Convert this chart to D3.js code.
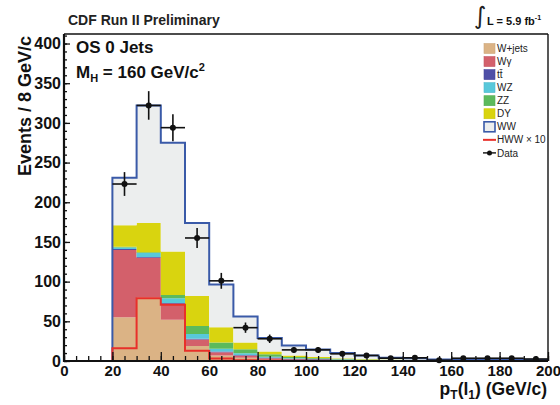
<!DOCTYPE html>
<html><head><meta charset="utf-8">
<script src="https://cdn.jsdelivr.net/npm/d3@7"></script>
<style>
body{margin:0;background:#fff}
svg{display:block;font-family:"Liberation Sans",Arial,Helvetica,sans-serif}
</style>
</head><body>
<svg id="c" width="560" height="405"></svg>
<script>
// ---- data (bins of 10 GeV/c, lower edges) ----
const binLo  = [0,10,20,30,40,50,60,70,80,90,100,110,120,130,140,150,160,170,180,190];
const wjets  = [0,0,55,80,52,19,7,4,2,1.2,0.8,0.5,0.3,0.2,0.1,0.1,0.1,0.1,0.1,0.1];
const wgamma = [0,0,85,50,20,8,4,3,1.5,0.8,0.5,0.3,0.2,0.1,0.1,0,0,0,0,0];
const ttbar  = [0,0,1,1,1,1,1,0.7,0.8,0.8,0.8,0.8,0.8,0.8,0.7,0.5,0.5,0.5,0.4,0.3];
const wz     = [0,0,2,5,6,6,3.4,2,1.2,0.8,0.6,0.4,0.3,0.2,0.2,0.1,0.1,0.1,0.1,0.1];
const zz     = [0,0,1,1,4,10,8,5,3,1.5,1,0.7,0.4,0.3,0.2,0.1,0.1,0.1,0.1,0.1];
const dy     = [0,0,27,37,55,38,19,8.5,3.5,1.9,1.3,0.8,0.5,0.4,0.2,0.2,0.1,0.1,0.1,0.1];
const ww     = [0,0,60,148,137,92,54,33,17,12.5,9.5,6.5,4.5,2,2,1,1.1,1.1,1.2,0.8];
const hww10  = [0,0,16,79,71,13,3,1,0.5,0.3,0.2,0.1,0.1,0,0,0,0,0,0,0];
const dataVal = [null,null,223,322,294,155,101,42,28,14,14,9,7,3.5,4,1,3.5,3.5,3.5,2.5];
const dataErr = [null,null,15,18,17,12.5,10,6.5,5.3,3.7,3.7,3,2.6,1.9,2,1,1.9,1.9,1.9,1.6];
const xTicks = [0,20,40,60,80,100,120,140,160,180,200];
const yTicks = [0,50,100,150,200,250,300,350,400];
const seriesKeys   = ["wjets","wgamma","ttbar","wz","zz","dy","ww"];
const seriesLabels = ["W+jets","W\u03b3","tt\u0304","WZ","ZZ","DY","WW"];
const seriesColors = ["#dbb385","#d3606b","#4e4fa7","#58c8da","#5cba5c","#d9d40f","#eceeee"];

(function(){
const svg = d3.select("#c");
const x = d3.scaleLinear().domain([0,200]).range([64,548]);
const y = d3.scaleLinear().domain([0,412]).range([361,34]);
const binW = 10;

const table = binLo.map((lo,i)=>({lo, wjets:wjets[i], wgamma:wgamma[i], ttbar:ttbar[i], wz:wz[i], zz:zz[i], dy:dy[i], ww:ww[i]}));
const stacked = d3.stack().keys(seriesKeys)(table);

function stepPts(arr){
  const last = arr[arr.length-1];
  return arr.concat([Object.assign({}, last, {lo:last.lo+binW})]);
}
const area = d3.area().curve(d3.curveStepAfter)
  .x(d=>x(d.lo)).y0(d=>y(d.a)).y1(d=>y(d.b));

stacked.forEach((layer,k)=>{
  const pts = stepPts(layer.map(d=>({lo:d.data.lo, a:d[0], b:d[1]})));
  svg.append("path").attr("d", area(pts)).attr("fill", seriesColors[k]).attr("stroke","none");
});

const topLayer = stacked[stacked.length-1];
const line = d3.line().curve(d3.curveStepAfter).x(d=>x(d.lo)).y(d=>y(d.v));
const topPts = stepPts(topLayer.map(d=>({lo:d.data.lo, v:d[1]})));
svg.append("path").attr("d", line(topPts)).attr("fill","none").attr("stroke","#3a5aa8").attr("stroke-width",2);

const hPts = stepPts(binLo.map((lo,i)=>({lo, v:hww10[i]})));
svg.append("path").attr("d", line(hPts)).attr("fill","none").attr("stroke","#e8302a").attr("stroke-width",2);

// axes
const xMinor = d3.range(0,201,5);
const yMinor = d3.range(0,411,10);
const gx = svg.append("g").attr("transform",`translate(0,${y(0)})`);
gx.call(d3.axisBottom(x).tickValues(xMinor).tickSize(-5).tickFormat("").tickSizeOuter(0));
const gx2 = svg.append("g").attr("transform",`translate(0,${y(0)})`);
gx2.call(d3.axisBottom(x).tickValues(xTicks).tickSize(-9).tickPadding(4).tickFormat(d3.format("d")).tickSizeOuter(0));
const gy = svg.append("g").attr("transform",`translate(${x(0)},0)`);
gy.call(d3.axisLeft(y).tickValues(yMinor).tickSize(-3).tickFormat("").tickSizeOuter(0));
const gy2 = svg.append("g").attr("transform",`translate(${x(0)},0)`);
gy2.call(d3.axisLeft(y).tickValues(yTicks).tickSize(-6).tickPadding(3).tickFormat(d3.format("d")).tickSizeOuter(0));
svg.selectAll(".domain").remove();
svg.selectAll(".tick line").attr("stroke","#111").attr("stroke-width",1.3);
gx2.selectAll("text").attr("font-size",15).attr("font-weight","bold").attr("fill","#111")
  .attr("font-family","'Liberation Sans',Arial,sans-serif").attr("y",4).attr("dy","0.75em");
gy2.selectAll("text").attr("font-size",16).attr("font-weight","bold").attr("fill","#111")
  .attr("font-family","'Liberation Sans',Arial,sans-serif");

// frame
svg.append("line").attr("x1",x(0)).attr("x2",x(200)).attr("y1",y(0)).attr("y2",y(0)).attr("stroke","#111").attr("stroke-width",2.2);
svg.append("line").attr("x1",x(0)).attr("x2",x(0)).attr("y1",y(0)+1).attr("y2",34).attr("stroke","#111").attr("stroke-width",2.2);
svg.append("line").attr("x1",x(0)).attr("x2",x(200)).attr("y1",34).attr("y2",34).attr("stroke","#111").attr("stroke-width",1.6);
svg.append("line").attr("x1",x(200)).attr("x2",x(200)).attr("y1",34).attr("y2",y(0)).attr("stroke","#111").attr("stroke-width",1.4);

// data points
const gd = svg.append("g").attr("stroke","#111").attr("stroke-width",1.6);
binLo.forEach((lo,i)=>{
  if(dataVal[i]==null) return;
  const cx = x(lo+binW/2), cy = y(dataVal[i]);
  gd.append("line").attr("x1",x(lo)).attr("x2",x(lo+binW)).attr("y1",cy).attr("y2",cy);
  gd.append("line").attr("x1",cx).attr("x2",cx).attr("y1",y(Math.max(0,dataVal[i]-dataErr[i]))).attr("y2",y(dataVal[i]+dataErr[i]));
  gd.append("circle").attr("cx",cx).attr("cy",cy).attr("r",3).attr("fill","#111").attr("stroke","none");
});

// texts
svg.append("text").attr("x",68).attr("y",25).attr("font-size",14).attr("font-weight","bold").attr("fill","#222")
  .text("CDF Run II Preliminary");
svg.append("text").attr("x",76).attr("y",53).attr("font-size",17).attr("font-weight","bold").attr("fill","#111")
  .text("OS 0 Jets");
const mh = svg.append("text").attr("x",76).attr("y",78).attr("font-size",17).attr("font-weight","bold").attr("fill","#111");
mh.append("tspan").text("M");
mh.append("tspan").attr("font-size",11).attr("dy",4).text("H");
mh.append("tspan").attr("dy",-4).text(" = 160 GeV/c");
mh.append("tspan").attr("font-size",11).attr("dy",-7).text("2");

svg.append("text").attr("x",474).attr("y",24).attr("font-size",24).attr("font-family","'DejaVu Sans',sans-serif")
  .attr("fill","#222").text("\u222b");
const lum = svg.append("text").attr("x",487).attr("y",25).attr("font-size",11).attr("font-weight","bold").attr("fill","#111");
lum.append("tspan").text("L = 5.9 fb");
lum.append("tspan").attr("font-size",7).attr("dy",-5).text("-1");

svg.append("text").attr("transform","rotate(-90)").attr("x",-36).attr("y",31)
  .attr("text-anchor","end").attr("font-size",18).attr("font-weight","bold").attr("fill","#111")
  .text("Events / 8 GeV/c");
const xt = svg.append("text").attr("x",547).attr("y",395).attr("text-anchor","end")
  .attr("font-size",17.5).attr("font-weight","bold").attr("fill","#111");
xt.append("tspan").text("p");
xt.append("tspan").attr("font-size",12).attr("dy",4).text("T");
xt.append("tspan").attr("dy",-4).text("(l");
xt.append("tspan").attr("font-size",12).attr("dy",4).text("1");
xt.append("tspan").attr("dy",-4).text(") (GeV/c)");

// legend
const lg = svg.append("g").attr("font-size",10).attr("fill","#222");
const ly0 = 48.5, lstep = 13.05;
seriesKeys.forEach((k,i)=>{
  const cy = ly0 + i*lstep;
  const isWW = k==="ww";
  lg.append("rect").attr("x",484).attr("y",cy-5).attr("width",11).attr("height",10)
    .attr("fill",seriesColors[i])
    .attr("stroke", isWW ? "#3a5aa8" : d3.color(seriesColors[i]).darker(0.2))
    .attr("stroke-width", isWW ? 1.6 : 0.6);
  lg.append("text").attr("x",497).attr("y",cy+3.6).text(seriesLabels[i]);
});
const cyH = ly0 + 7*lstep;
lg.append("line").attr("x1",483).attr("x2",496).attr("y1",cyH).attr("y2",cyH).attr("stroke","#e8302a").attr("stroke-width",2);
lg.append("text").attr("x",497).attr("y",cyH+3.6).text("HWW \u00d7 10");
const cyD = ly0 + 8*lstep;
lg.append("line").attr("x1",483).attr("x2",496).attr("y1",cyD).attr("y2",cyD).attr("stroke","#111").attr("stroke-width",1.4);
lg.append("circle").attr("cx",489.5).attr("cy",cyD).attr("r",2.5).attr("fill","#111");
lg.append("text").attr("x",497).attr("y",cyD+3.6).text("Data");
})();
</script>
</body></html>
